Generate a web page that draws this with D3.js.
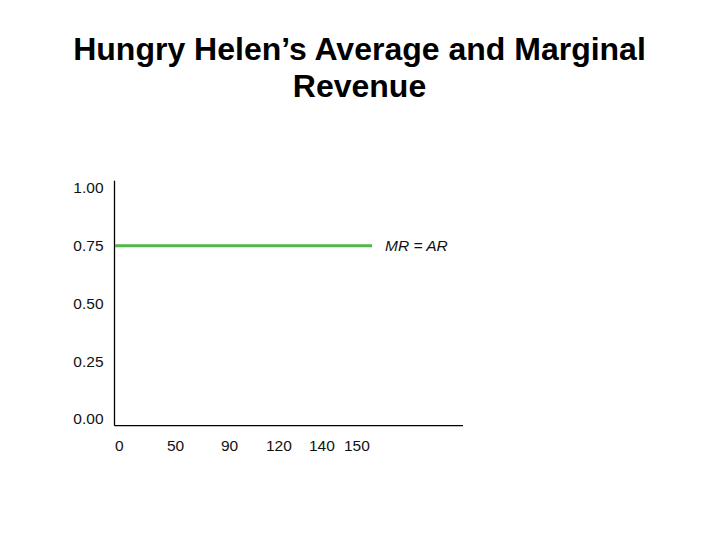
<!DOCTYPE html>
<html>
<head>
<meta charset="utf-8">
<script src="https://cdn.jsdelivr.net/npm/d3@7"></script>
<style>
  html, body { margin: 0; padding: 0; background: #fff; }
  svg { display: block; font-family: Arial, "Liberation Sans", sans-serif; }
</style>
</head>
<body>
<svg id="chart" width="720" height="540"></svg>
<script>
// ---- data ----
const titleLines = ["Hungry Helen\u2019s Average and Marginal", "Revenue"];
const xTicks = [0, 50, 90, 120, 140, 150];          // quantity tick labels
const yTicks = [0.00, 0.25, 0.50, 0.75, 1.00];      // price tick labels
const mrQuantity = [0, 158];                         // MR = AR line extent
const mrPrice = [0.75, 0.75];
const mrLabel = "MR = AR";

// ---- layout ----
const svg = d3.select("#chart");
const axisX = 114.5, axisY = 425.7, axisTop = 180.7, axisRight = 463;
const labelSize = 15.5;

// x labels are spaced unevenly in the original, so map piecewise
const x = d3.scaleLinear().domain(xTicks).range([115, 167, 221, 266, 309, 344]);
const y = d3.scaleLinear().domain([0, 1]).range([419, 188]);

// title
svg.append("g").selectAll("text").data(titleLines).join("text")
  .attr("x", 359.5)
  .attr("y", (d, i) => 59.5 + i * 37.8)
  .attr("text-anchor", "middle")
  .attr("font-weight", "bold")
  .attr("font-size", 32)
  .attr("fill", "#000")
  .text(d => d);

// axis frame lines
svg.append("line").attr("x1", axisX).attr("x2", axisX).attr("y1", axisTop).attr("y2", axisY)
  .attr("stroke", "#000").attr("stroke-width", 1.3);
svg.append("line").attr("x1", axisX).attr("x2", axisRight).attr("y1", axisY).attr("y2", axisY)
  .attr("stroke", "#000").attr("stroke-width", 1.3);

// y tick labels
const yAxis = d3.axisLeft(y).tickValues(yTicks).tickFormat(d3.format(".2f")).tickSize(0).tickPadding(11);
const gy = svg.append("g").attr("transform", `translate(${axisX},0)`).call(yAxis);
gy.select(".domain").remove();
gy.attr("font-size", labelSize).attr("font-family", "Arial, 'Liberation Sans', sans-serif");
gy.selectAll("text").attr("fill", "#111");

// x tick labels
svg.append("g").selectAll("text").data(xTicks).join("text")
  .attr("x", d => x(d))
  .attr("y", 450.7)
  .attr("text-anchor", "start")
  .attr("font-size", labelSize)
  .attr("fill", "#111")
  .text(d => d);

// MR = AR line
const mrData = mrQuantity.map((q, i) => [q, mrPrice[i]]);
svg.append("path")
  .datum(mrData)
  .attr("d", d3.line().x(d => x(d[0])).y(d => y(d[1])))
  .attr("fill", "none")
  .attr("stroke", "#50b848")
  .attr("stroke-width", 3.2);

svg.append("text")
  .attr("x", x(mrQuantity[1]) + 13)
  .attr("y", y(mrPrice[1]))
  .attr("dy", "0.36em")
  .attr("font-size", labelSize)
  .attr("font-style", "italic")
  .attr("fill", "#111")
  .text(mrLabel);
</script>
</body>
</html>
